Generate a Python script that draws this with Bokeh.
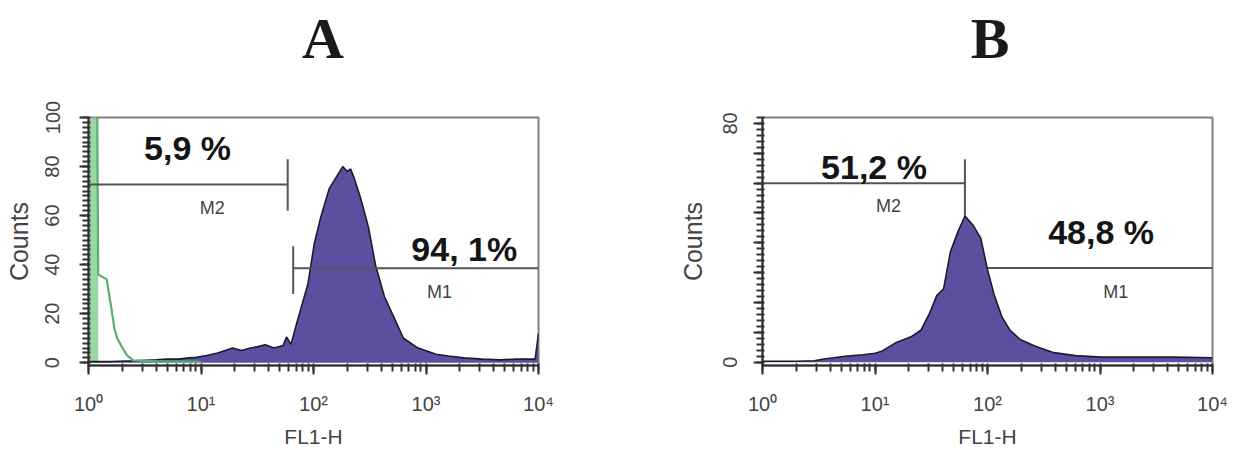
from bokeh.plotting import figure
from bokeh.layouts import row, column
from bokeh.models import Range1d, LogTicker, SingleIntervalTicker, Div
from bokeh.core.properties import value
from bokeh.embed import file_html
from bokeh.resources import INLINE

# ---------------- data ----------------
# Panel A: stained sample histogram (FL1-H intensity, counts)
a_x = [1.0, 1.6, 2.5, 3.2, 4.0, 5.0, 6.3, 7.9, 9.1, 11.2, 14.1, 19.1, 22.9, 27.5, 31.6,
       37.2, 44.7, 53.7, 57.5, 63.1, 70.8, 79.4, 89.1, 102, 117, 138, 166, 182, 200,
       214, 229, 263, 309, 355, 427, 513, 631, 851, 1230, 1585, 2188, 3162, 4571,
       6310, 9333, 10000]
a_y = [0.5, 0.5, 0.8, 1.0, 1.2, 1.5, 1.5, 2.0, 2.2, 3.0, 4.0, 6.0, 5.0, 6.0, 6.5,
       7.4, 6.0, 7.0, 10.5, 7.5, 16, 24, 32, 49, 60, 71, 77, 80, 78,
       79, 75.5, 67, 55, 40, 27, 19, 10, 6, 3.5, 2.8, 2.0, 1.5, 1.2,
       1.5, 1.5, 12]
# Panel A: unstained control (green)
ctrl_x = [1.0, 1.18, 1.22, 1.45, 1.6, 1.7, 1.8, 1.95, 2.2, 2.5, 3.0, 5.0, 8.0, 10.0]
ctrl_y = [150, 150, 36, 34, 22, 14, 10, 7, 3, 1, 0.8, 0.5, 0.5, 0.3]

# Panel B histogram
b_x = [1.0, 2.0, 2.9, 3.4, 4.3, 5.4, 7.8, 10.0, 11.5, 15.1, 20.9, 25.7, 30.2, 35.5,
       40.7, 46.8, 55.0, 63.1, 74.1, 87.1, 100, 115, 135, 158, 195, 263, 389, 603,
       1023, 2188, 4571, 10000]
b_y = [0.3, 0.3, 0.5, 1.0, 1.5, 2.0, 2.5, 3.0, 3.7, 6.4, 8.5, 10.8, 16, 22.4,
       24.6, 37, 44, 49, 46, 41.6, 31, 22.4, 15, 10.8, 7.6, 5.4, 3.2, 2.2,
       1.7, 1.7, 1.7, 1.5]

# gates: (start, end, level, tick_low, tick_high)
a_m2 = (1, 59, 72.7, 62, 83)
a_m1 = (66, 10000, 38.5, 28, 47.5)
b_m2 = (1, 63, 60, 49, 68)
b_m1 = (63, 10000, 31.6, 25, 38)

# percentage labels and marker names: x, y, text
a_pct = ([7.6, 2188], [87.5, 46.3], ["5,9 %", "94, 1%"])
a_names = ([12.6, 1318], [63, 28.8], ["M2", "M1"])
b_pct = ([9.8, 1023], [65.3, 43.8], ["51,2 %", "48,8 %"])
b_names = ([13.2, 1380], [52.5, 23.6], ["M2", "M1"])

decades = [1, 10, 100, 1000, 10000]
decade_labels = ["10\u2070", "10\u00b9", "10\u00b2", "10\u00b3", "10\u2074"]
a_yticks = [0, 20, 40, 60, 80, 100]
b_yticks = [0, 10, 20, 30, 40, 50, 60, 70, 80]
b_ylabelled = [0, 80]

FILL = "#5a509f"
EDGE = "#1c1b2e"
GATE = "#555555"
SANS = "Liberation Sans"
TITLE_H = 80


def title_div(text, pad_left):
    return Div(text=text, width=617, height=TITLE_H, margin=(0, 0, 0, 0),
               styles={"font-family": "'Liberation Serif', serif",
                       "font-weight": "bold", "font-size": "58px",
                       "line-height": "58px", "color": "#1a1a1a",
                       "text-align": "center", "padding-top": "10px",
                       "padding-left": f"{pad_left}px", "box-sizing": "border-box",
                       "background": "white"})


def base_panel(yticks, labelled, yend, bl, br, bt, bb):
    p = figure(width=617, height=450 - TITLE_H, x_axis_type="log",
               x_range=Range1d(1, 10000), y_range=Range1d(-1.1, yend),
               output_backend="svg", toolbar_location=None,
               min_border_left=bl, min_border_right=br,
               min_border_top=bt - TITLE_H, min_border_bottom=bb)
    p.grid.visible = False
    p.outline_line_color = "#808080"
    p.outline_line_width = 2
    p.background_fill_color = "white"
    p.border_fill_color = "white"

    p.xaxis.ticker = LogTicker(mantissas=[1], num_minor_ticks=10)
    p.xaxis.major_label_overrides = {d: lab for d, lab in zip(decades, decade_labels)}
    p.xaxis.axis_label = "FL1-H"

    step = yticks[1] - yticks[0]
    p.yaxis.ticker = SingleIntervalTicker(interval=step, num_minor_ticks=step // 2)
    p.yaxis.major_label_overrides = {t: (str(t) if t in labelled else "") for t in yticks}
    p.yaxis.major_label_orientation = "vertical"
    p.yaxis.axis_label = "Counts"

    for ax in (p.xaxis, p.yaxis):
        ax.axis_line_color = "#2a2a2a"
        ax.axis_line_width = 2
        ax.major_tick_line_color = "#2a2a2a"
        ax.minor_tick_line_color = "#333333"
        ax.major_tick_line_width = 2
        ax.minor_tick_line_width = 2
        ax.major_tick_in = 0
        ax.minor_tick_in = 2
        ax.major_tick_out = 9
        ax.minor_tick_out = 6
        ax.major_label_text_font = SANS
        ax.major_label_text_font_size = "20px"
        ax.major_label_text_color = "#444444"
        ax.axis_label_text_font = SANS
        ax.axis_label_text_font_style = "normal"
        ax.axis_label_text_color = "#444444"
    p.xaxis.axis_label_text_font_size = "21px"
    p.yaxis.axis_label_text_font_size = "25px"
    p.xaxis.major_label_standoff = 18
    p.xaxis.axis_label_standoff = 7
    return p


def gate(p, g):
    x0, x1, lvl, lo, hi = g
    p.segment(x0=[x0], y0=[lvl], x1=[x1], y1=[lvl], line_color=GATE, line_width=2)
    tick_x = x1 if x0 == 1 else x0
    p.segment(x0=[tick_x], y0=[lo], x1=[tick_x], y1=[hi], line_color=GATE, line_width=2)


def labels(p, pct, names):
    p.text(x=pct[0], y=pct[1], text=pct[2], text_font=value(SANS),
           text_font_style="bold", text_font_size="34px", text_color="#151515",
           text_align="center", text_baseline="middle")
    p.text(x=names[0], y=names[1], text=names[2], text_font=value(SANS),
           text_font_size="18px", text_color="#444444",
           text_align="center", text_baseline="middle")


# ---------------- panel A ----------------
pa = base_panel(a_yticks, a_yticks, 100, 88, 79, 117, 75)
pa.yaxis.major_label_standoff = 20
pa.yaxis.axis_label_standoff = 10
pa.varea(x=ctrl_x[:3], y1=0, y2=ctrl_y[:3], fill_color="#8fd09a", fill_alpha=0.9)
pa.varea(x=a_x, y1=0, y2=a_y, fill_color=FILL)
pa.line(x=a_x, y=a_y, line_color=EDGE, line_width=1.6)
pa.line(x=ctrl_x, y=ctrl_y, line_color="#5bb070", line_width=2.2)
gate(pa, a_m2)
gate(pa, a_m1)
labels(pa, a_pct, a_names)

# ---------------- panel B ----------------
pb = base_panel(b_yticks, b_ylabelled, 82, 145, 22, 111, 82)
pb.yaxis.major_label_standoff = 16
pb.yaxis.axis_label_standoff = 14
gate(pb, b_m1)
pb.varea(x=b_x, y1=0, y2=b_y, fill_color=FILL)
pb.line(x=b_x, y=b_y, line_color=EDGE, line_width=1.6)
gate(pb, b_m2)
labels(pb, b_pct, b_names)

layout = column(row(title_div("A", 29), title_div("B", 129), spacing=0),
                row(pa, pb, spacing=0), spacing=0)
open("out.html", "w").write(file_html(layout, INLINE))
